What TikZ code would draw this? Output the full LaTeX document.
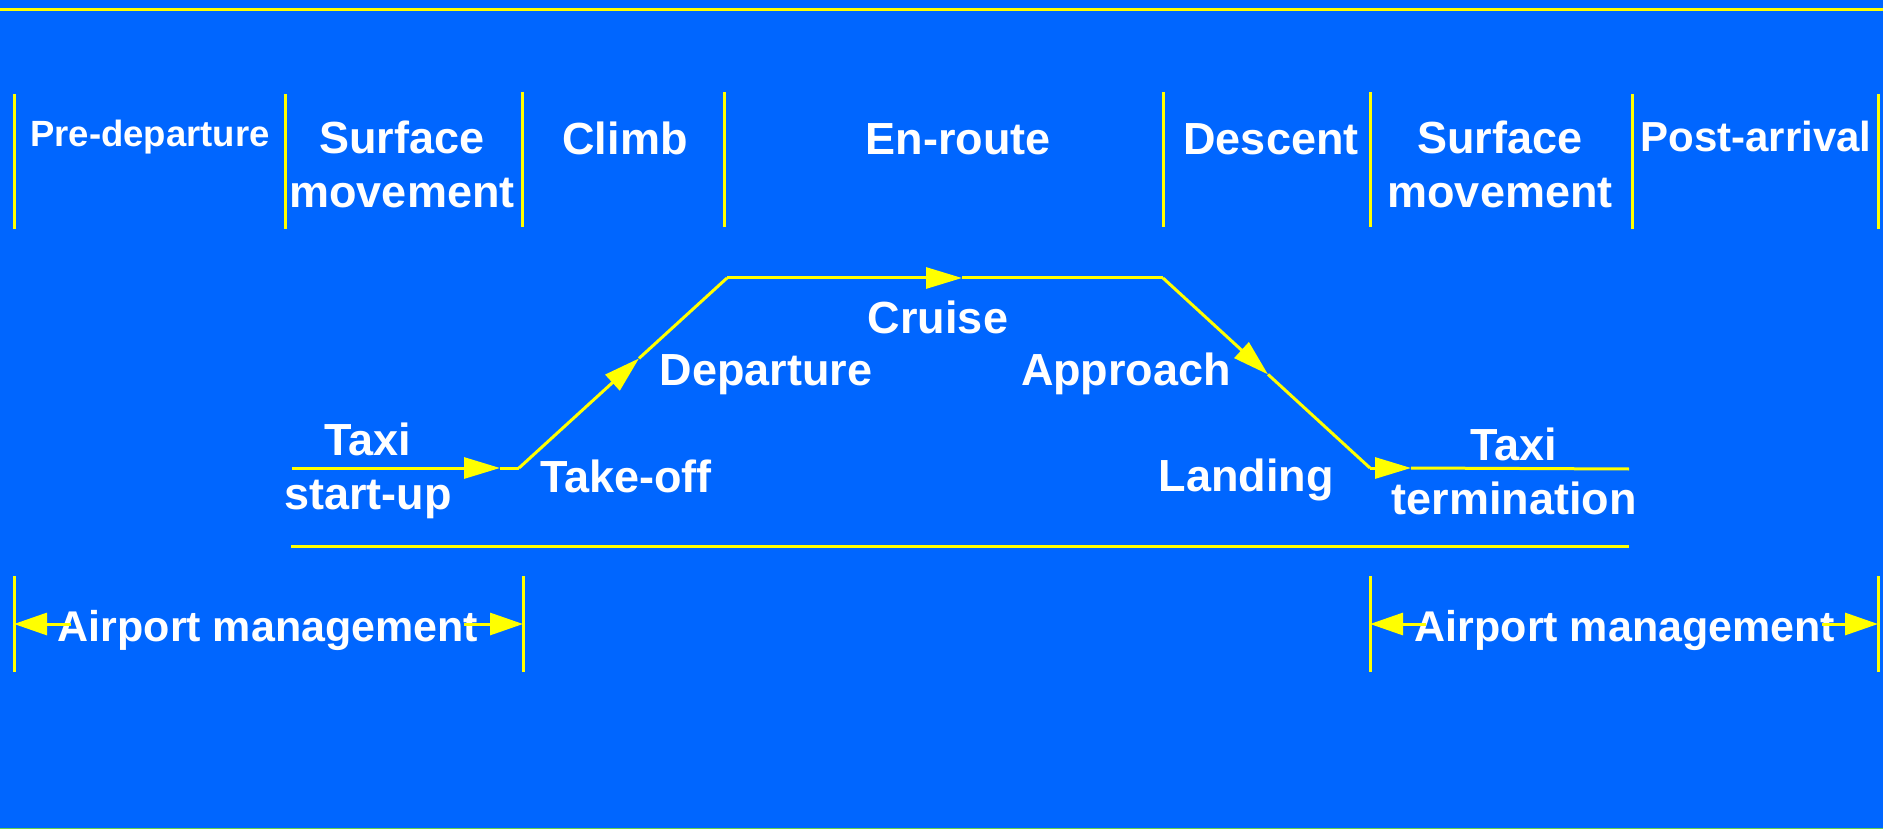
\documentclass[tikz,border=0pt]{standalone}
\usepackage{fontspec}
\setmainfont{Liberation Sans}
\usetikzlibrary{arrows.meta}
\definecolor{bgblue}{HTML}{0066FF}
\definecolor{ylw}{HTML}{FFFF00}
\tikzset{
  yline/.style={draw=ylw, line width=3pt},
  lbl/.style={text=white, font=\bfseries\fontsize{45}{54}\selectfont, inner sep=0pt, anchor=base, align=center},
  flowarrow/.style={yline, -{Triangle[length=36pt,width=21pt]}},
  mgmtarrow/.style={yline, -{Triangle[length=33pt,width=22pt]}}
}
\begin{document}
\begin{tikzpicture}[x=1pt,y=-1pt]
\fill[bgblue] (0,0) rectangle (1883,829);
\useasboundingbox (0,0) rectangle (1883,829);
% top and bottom rules
\coordinate (tl) at (0,9.5); \coordinate (tr) at (1883,9.5);
\draw[yline] (tl) -- (tr);
\coordinate (bl) at (0,828.5); \coordinate (br) at (1883,828.5);
\draw[draw=ylw!60!green!70!bgblue, line width=1pt] (bl) -- (br);
% phase dividers
\foreach \n/\x/\ya/\yb in {d0/14/94/229, d1/285/94/229, d2/522/92/227, d3/724/92/227, d4/1163/92/227, d5/1370/92/227, d6/1632/94/229, d7/1878/94/229}{
  \coordinate (\n t) at (\x,\ya); \coordinate (\n b) at (\x,\yb);
  \draw[yline] (\n t) -- (\n b);
}
% phase labels
\node[lbl, font=\bfseries\fontsize{36.5}{44}\selectfont] (pre) at (150,147) {Pre-departure};
\node[lbl] (surf1) at (402,208) {Surface\\movement};
\node[lbl] (climb) at (625,155) {Climb};
\node[lbl] (enr) at (958,155) {En-route};
\node[lbl] (desc) at (1271,155) {Descent};
\node[lbl] (surf2) at (1500,208) {Surface\\movement};
\node[lbl, font=\bfseries\fontsize{42}{50}\selectfont] (post) at (1756,152) {Post-arrival};
% flight profile
\coordinate (p0) at (292,468);
\coordinate (a1) at (500,468);
\coordinate (c1) at (519,468);
\coordinate (a2) at (639,358.4);
\coordinate (c2) at (727,278);
\coordinate (a3) at (962,278);
\coordinate (c3) at (1163,278);
\coordinate (a4) at (1268,374.4);
\coordinate (c4) at (1370,468);
\coordinate (a5) at (1411,468);
\coordinate (p1) at (1629,469);
\draw[flowarrow] (p0) -- (a1);
\draw[yline] (a1) -- (c1);
\draw[flowarrow] (c1) -- (a2);
\draw[yline] (a2) -- (c2);
\draw[flowarrow] (c2) -- (a3);
\draw[yline] (a3) -- (c3);
\draw[flowarrow] (c3) -- (a4);
\draw[yline] (a4) -- (c4);
\draw[flowarrow] (c4) -- (a5);
\draw[yline] (a5) -- (p1);
% baseline
\coordinate (g0) at (291,546); \coordinate (g1) at (1629,546);
\draw[yline] (g0) -- (g1);
% profile labels
\node[lbl] (taxi1) at (368,509) {Taxi\\start-up};
\node[lbl] (toff) at (626,492) {Take-off};
\node[lbl] (dep) at (766,385) {Departure};
\node[lbl] (cru) at (938,333) {Cruise};
\node[lbl] (appr) at (1126,385) {Approach};
\node[lbl] (land) at (1246,491) {Landing};
\node[lbl] (taxi2) at (1514,514) {Taxi\\termination};
% airport management spans
\foreach \n/\x in {m0/14, m1/523, m2/1370, m3/1878}{
  \coordinate (\n t) at (\x,576); \coordinate (\n b) at (\x,672);
  \draw[yline] (\n t) -- (\n b);
}
\node[lbl, font=\bfseries\fontsize{43}{50}\selectfont] (am1) at (268,641) {Airport management};
\node[lbl, font=\bfseries\fontsize{43}{50}\selectfont] (am2) at (1625,641) {Airport management};
\coordinate (am1l) at (71,624); \coordinate (am1r) at (464,624);
\coordinate (m0a) at (14,624); \coordinate (m1a) at (523,624);
\coordinate (am2l) at (1426,624); \coordinate (am2r) at (1822,624);
\coordinate (m2a) at (1370,624); \coordinate (m3a) at (1878,624);
\draw[mgmtarrow] (am1l) -- (m0a);
\draw[mgmtarrow] (am1r) -- (m1a);
\draw[mgmtarrow] (am2l) -- (m2a);
\draw[mgmtarrow] (am2r) -- (m3a);
\end{tikzpicture}
\end{document}
